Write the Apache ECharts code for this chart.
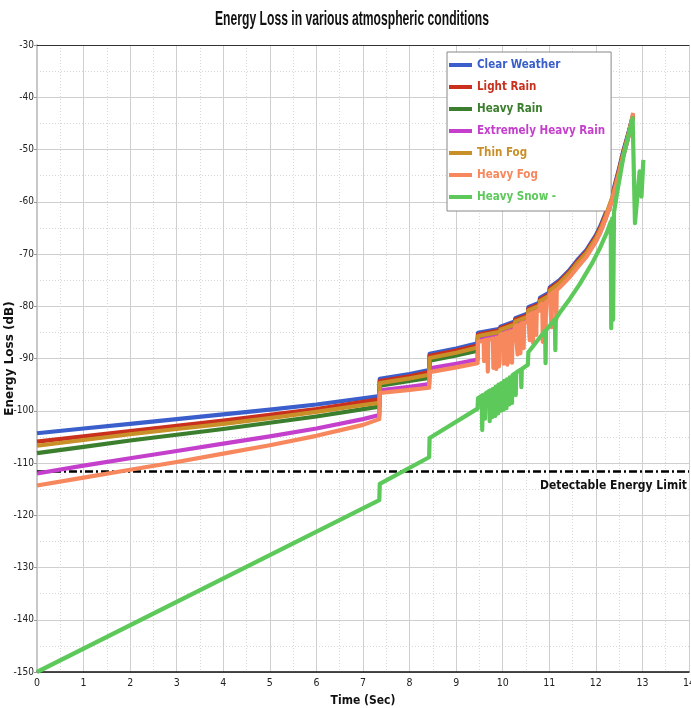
<!DOCTYPE html>
<html><head><meta charset="utf-8">
<script src="https://cdn.jsdelivr.net/npm/echarts@6/dist/echarts.min.js"></script>
<style>html,body{margin:0;padding:0;background:#fff}#c{width:691px;height:708px}</style>
</head><body><div id="c"></div>
<script>
const NARROW = "'Noto Sans ExtraCondensed','Noto Sans Condensed','DejaVu Sans Condensed',sans-serif";
const titleText = 'Energy Loss in various atmospheric conditions';
const seriesNames = ['Clear Weather','Light Rain','Heavy Rain','Extremely Heavy Rain','Thin Fog','Heavy Fog','Heavy Snow -'];
const colors = ['#3a5ecb','#c9301d','#3b7e2d','#c440cc','#c98f28','#f7875c','#5cc95a'];
const xTicks = [0,1,2,3,4,5,6,7,8,9,10,11,12,13,14];
const yTicks = [-150,-140,-130,-120,-110,-100,-90,-80,-70,-60,-50,-40,-30];
const limitValue = -111.5;
const limitLabel = 'Detectable Energy Limit';

const t = [0,1,2,3,4,5,6,7,7.35,7.36,8,8.42,8.43,9,9.46,9.47,9.94,9.95,10.26,10.27,10.54,10.55,10.79,10.8,11.0,11.01,11.22,11.44,11.6,11.8,12.0,12.1,12.2,12.36,12.5,12.58,12.7,12.8];
const clearWeather = [-104.3,-103.4,-102.5,-101.6,-100.7,-99.8,-98.8,-97.6,-97.2,-93.9,-93.0,-92.2,-89.1,-88.1,-87.1,-85.1,-84.3,-83.9,-82.9,-82.3,-81.4,-80.2,-79.3,-78.4,-77.4,-76.4,-75.0,-73.0,-71.2,-69.2,-66.4,-64.6,-62.4,-58.4,-53.6,-50.6,-46.8,-43.4];
const lightRain = [-105.9,-104.9,-103.9,-102.9,-101.9,-100.8,-99.7,-98.3,-97.8,-94.3,-93.4,-92.6,-89.5,-88.5,-87.5,-85.4,-84.6,-84.2,-83.2,-82.6,-81.7,-80.5,-79.6,-78.7,-77.7,-76.7,-75.3,-73.3,-71.5,-69.5,-66.7,-64.9,-62.7,-58.7,-53.9,-50.9,-47.0,-43.5];
const heavyRain = [-108.1,-106.9,-105.7,-104.6,-103.5,-102.3,-101.1,-99.7,-99.2,-95.2,-94.3,-93.7,-90.4,-89.4,-88.5,-86.0,-85.2,-84.8,-83.8,-83.2,-82.3,-81.1,-80.2,-79.3,-78.3,-77.3,-75.9,-73.9,-72.1,-70.0,-67.2,-65.4,-63.2,-59.2,-54.4,-51.3,-47.3,-43.7];
const extremeRain = [-112.0,-110.5,-109.1,-107.7,-106.3,-104.9,-103.4,-101.6,-100.8,-96.1,-95.4,-94.9,-91.9,-91.0,-90.2,-86.5,-85.6,-85.2,-84.2,-83.6,-82.7,-81.5,-80.6,-79.6,-78.6,-77.6,-76.2,-74.2,-72.4,-70.3,-67.5,-65.7,-63.4,-59.4,-54.6,-51.5,-47.5,-43.8];
const thinFog = [-106.7,-105.6,-104.5,-103.5,-102.5,-101.4,-100.2,-98.9,-98.5,-94.7,-93.8,-93.1,-89.9,-88.9,-87.9,-85.7,-84.9,-84.5,-83.5,-82.9,-82.0,-80.8,-79.9,-79.0,-78.0,-77.0,-75.6,-73.6,-71.8,-69.8,-67.0,-65.2,-63.0,-59.0,-54.2,-51.2,-47.2,-43.6];

const fogT = [0,1,2,3,4,5,6,7,7.35,7.36,8,8.42,8.43,9,9.46,9.47,
 9.59,9.60,9.61, 9.67,9.68,9.69, 9.79,9.80,9.81, 9.85,9.86,9.87, 9.91,9.92,9.93, 9.94,9.95,
 10.01,10.02,10.03, 10.09,10.10,10.11, 10.14,10.15,10.16, 10.19,10.20,10.21, 10.26,10.27,
 10.31,10.32,10.33, 10.37,10.38,10.39, 10.44,10.45,10.46, 10.54,10.55,
 10.57,10.58,10.59, 10.64,10.65,10.66, 10.71,10.72,10.73, 10.79,10.8,
 10.85,10.86,10.87, 10.91,10.92,10.93, 11.0,11.01, 11.04,11.05,11.06, 11.14,11.15,11.16,
 11.22,11.44,11.6,11.8,12.0,12.1,12.2,12.36,12.5,12.58,12.7,12.8];
const heavyFog = [-114.3,-112.8,-111.3,-109.8,-108.2,-106.6,-104.8,-102.7,-101.6,-96.6,-96.0,-95.6,-92.6,-91.7,-90.9,-86.8,
 -86.6,-90.5,-86.5, -86.4,-92.5,-86.4, -86.2,-91.8,-86.2, -86.1,-92.0,-86.0, -86.0,-91.5,-85.9, -85.9,-85.5,
 -85.3,-91.0,-85.3, -85.0,-91.2,-85.0, -84.9,-90.6,-84.8, -84.7,-90.8,-84.7, -84.5,-83.8,
 -83.6,-89.2,-83.6, -83.4,-89.0,-83.4, -83.2,-88.0,-83.2, -82.9,-81.7,
 -81.6,-86.5,-81.6, -81.3,-87.0,-81.3, -81.1,-85.5,-81.0, -80.8,-79.8,
 -79.5,-86.8,-79.5, -79.2,-85.0,-79.2, -78.8,-77.8, -77.6,-84.0,-77.5, -77.0,-82.6,-76.9,
 -76.4,-74.4,-72.6,-70.5,-67.6,-65.8,-63.5,-59.5,-54.7,-51.6,-47.5,-43.0];

const snowT = [0,7.35,7.36,8.42,8.43,9.46,9.47,
 9.55,9.56,9.57, 9.61,9.62,9.63, 9.71,9.72,9.73, 9.77,9.78,9.79, 9.83,9.84,9.85, 9.89,9.90,9.91, 9.95,9.96,9.97, 10.01,10.02,10.03, 10.07,10.08,10.09, 10.13,10.14,10.15, 10.19,10.20,10.21, 10.27,10.28,10.29, 10.39,10.40,10.41,
 10.54,10.55, 10.91,10.92,10.93, 11.12,11.13,11.14, 11.22,11.44,11.65,11.93,12.08,12.23,
 12.32,12.33,12.35,12.37,12.39, 12.45,12.6,12.79,12.84,12.94,12.98,13.02];
const heavySnow = [-150,-117.1,-114.0,-108.9,-105.2,-99.6,-97.6,
 -97.1,-103.7,-97.0, -96.8,-101.5,-96.7, -96.2,-102.0,-96.1, -95.9,-101.2,-95.8, -95.5,-101.0,-95.4, -95.1,-100.5,-95.0, -94.8,-100.0,-94.7, -94.4,-99.8,-94.3, -94.1,-99.5,-94.0, -93.7,-98.8,-93.6, -93.3,-98.5,-93.2, -92.8,-97.0,-92.7, -92.1,-95.5,-92.0,
 -91.2,-88.8, -84.7,-90.9,-84.6, -82.5,-88.4,-82.4, -81.3,-78.6,-75.8,-71.6,-69.0,-66.0,
 -63.8,-84.2,-63.2,-82.6,-62.0, -58.6,-51.0,-44.0,-64.1,-54.2,-59.0,-52.0];

function zip(xs, ys){ return xs.map((x,i)=>[x, ys[i]]); }
const seriesData = [
  zip(t, clearWeather), zip(t, lightRain), zip(t, heavyRain), zip(t, extremeRain),
  zip(t, thinFog), zip(fogT, heavyFog), zip(snowT, heavySnow)
];

// measure title to squeeze it horizontally like the reference
const TITLE_FONT = "bold 21px 'Liberation Sans', Arial, sans-serif";
const mctx = document.createElement('canvas').getContext('2d');
mctx.font = TITLE_FONT;
const titleW = mctx.measureText(titleText).width;
const titleScale = 274 / titleW;

const chart = echarts.init(document.getElementById('c'), null, {renderer:'canvas'});
const series = seriesNames.map((n,i)=>({
  name:n, type:'line', data:seriesData[i], showSymbol:false, symbol:'none', animation:false,
  lineStyle:{width:4.2, color:colors[i], join:'round'}, itemStyle:{color:colors[i]}, z:2+i
}));
series.push({
  name:'limit', type:'line', data:[], animation:false, z:20,
  markLine:{symbol:'none', silent:true, animation:false,
    data:[{yAxis:limitValue}],
    lineStyle:{color:'#000', width:2.5, type:[8,3,2,3]},
    label:{show:true, position:'insideEndBottom', formatter:limitLabel, color:'#111',
      fontFamily:NARROW, fontWeight:'bold', fontSize:12, distance:[2,9]}
  }
});

chart.setOption({
  backgroundColor:'#fff',
  graphic:[{
    type:'text', x:352, y:19, scaleX:titleScale, scaleY:1, silent:true,
    style:{text:titleText, font:TITLE_FONT, fill:'#111', align:'center', verticalAlign:'middle'}
  }],
  legend:{orient:'vertical', left:447, top:52, data:seriesNames.map((n,i)=>({name:n, textStyle:{color:colors[i]}})),
    icon:'rect', itemWidth:23, itemHeight:4, itemGap:8,
    backgroundColor:'#fff', borderColor:'#888', borderWidth:1, padding:[6,6,7,2],
    textStyle:{fontFamily:NARROW, fontWeight:'bold', fontSize:11.5, lineHeight:14}},
  grid:{left:37, right:2, top:45, bottom:36, containLabel:false, outerBoundsMode:'none'},
  xAxis:[{
    type:'value', min:xTicks[0], max:xTicks[xTicks.length-1], interval:1,
    name:'Time (Sec)', nameLocation:'middle', nameGap:23, nameMoveOverlap:false,
    nameTextStyle:{fontFamily:NARROW, fontWeight:'bold', fontSize:12, color:'#111'},
    axisLine:{lineStyle:{color:'#111', width:1.5}},
    axisTick:{show:false},
    axisLabel:{fontFamily:NARROW, fontSize:10.5, color:'#222', margin:6},
    splitLine:{lineStyle:{color:'#cfcfcf', width:1}},
    minorTick:{show:false, splitNumber:2},
    minorSplitLine:{show:true, lineStyle:{color:'#d8d8d8', type:[1,2]}}
  },{
    type:'value', position:'top', min:xTicks[0], max:xTicks[xTicks.length-1],
    axisLine:{show:true, lineStyle:{color:'#333', width:1}}, axisTick:{show:false},
    axisLabel:{show:false}, splitLine:{show:false}
  }],
  yAxis:{
    type:'value', min:yTicks[0], max:yTicks[yTicks.length-1], interval:10,
    name:'Energy Loss (dB)', nameLocation:'middle', nameGap:21, nameMoveOverlap:false,
    nameTextStyle:{fontFamily:"'DejaVu Sans',sans-serif", fontWeight:'bold', fontSize:12, color:'#111'},
    axisLine:{show:true, lineStyle:{color:'#c8c8c8', width:2}},
    axisTick:{show:true, length:3, lineStyle:{color:'#999'}},
    axisLabel:{fontFamily:NARROW, fontSize:10, color:'#222', margin:3},
    splitLine:{lineStyle:{color:'#cfcfcf', width:1}},
    minorTick:{show:false, splitNumber:2},
    minorSplitLine:{show:true, lineStyle:{color:'#d8d8d8', type:[1,2]}}
  },
  series
});
</script></body></html>
